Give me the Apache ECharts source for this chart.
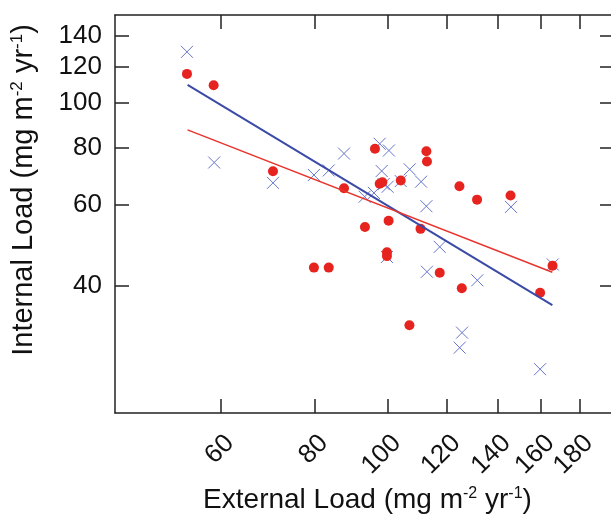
<!DOCTYPE html>
<html>
<head>
<meta charset="utf-8">
<script src="https://cdn.jsdelivr.net/npm/echarts@6/dist/echarts.min.js"></script>
<style>
    html, body { margin: 0; padding: 0; background: #fff; }
    #chart { width: 611px; height: 514px; }
</style>
</head>
<body>
<div id="chart"></div>
<script>
// tick labels (both axes are logarithmic)
var xTicks = [60, 80, 100, 120, 140, 160, 180];
var yTicks = [40, 60, 80, 100, 120, 140];

// red dots: external vs internal load
var redExternal = [54.1, 58.7, 70.4, 87.5, 96.2, 97.6, 98.4, 104.1, 112.6, 112.8, 124.6, 131.5, 145.7,
    100.3, 93.3, 110.6, 99.8, 99.8, 79.8, 83.5, 117.3, 125.5, 159.5, 165.7, 106.9];
var redInternal = [115.8, 109.4, 71.1, 65.3, 79.6, 66.8, 67.3, 67.9, 78.6, 74.7, 66.0, 61.7, 63.0,
    55.5, 53.8, 53.3, 47.4, 46.5, 43.9, 43.9, 42.8, 39.6, 38.7, 44.3, 32.9];

// blue crosses
var blueExternal = [54.1, 58.8, 70.4, 79.8, 83.5, 87.5, 93.2, 95.9, 97.6, 100.4, 98.2, 98.8, 100.0,
    104.1, 107.0, 110.8, 112.6, 117.3, 112.8, 131.6, 99.8, 125.6, 124.7, 159.5, 145.9, 165.8];
var blueInternal = [129.3, 74.3, 67.1, 69.8, 71.4, 77.7, 62.6, 63.8, 81.6, 78.9, 71.2, 66.7, 65.8,
    67.7, 71.8, 67.5, 59.7, 48.7, 43.0, 41.2, 46.3, 31.7, 29.4, 26.4, 59.5, 44.6];

// fitted lines (end points)
var redFitExternal = [54.2, 165.6];
var redFitInternal = [87.5, 42.9];
var blueFitExternal = [54.2, 165.6];
var blueFitInternal = [109.6, 36.4];

var log10 = function (v) { return Math.log10(v); };
var pairs = function (xs, ys) {
    return xs.map(function (x, i) { return [log10(x), log10(ys[i])]; });
};
var fmt = function (v) { return String(Math.round(Math.pow(10, v))); };

var FONT = 'Liberation Sans';
var xMin = log10(43.4), xMax = log10(200);
var yMin = log10(21.2), yMax = log10(155.5);

var axisLine = { show: true, lineStyle: { color: '#222', width: 1.5 } };
var tickStyle = { color: '#222', width: 1.5 };
var supStyle = function (size) {
    return { sup: { fontSize: size, fontFamily: FONT, color: '#111', verticalAlign: 'top', padding: [0, 0, 12, 0] } };
};

var chart = echarts.init(document.getElementById('chart'));

var option = {
    animation: false,
    backgroundColor: '#fff',
    grid: { left: 115, top: 15, width: 499, height: 398, containLabel: false, outerBoundsMode: 'none' },
    xAxis: [{
        type: 'value', min: xMin, max: xMax, position: 'bottom',
        axisLine: axisLine,
        splitLine: { show: false },
        axisTick: { show: true, inside: true, length: 14, lineStyle: tickStyle, customValues: xTicks.map(log10) },
        axisLabel: {
            show: true, customValues: xTicks.map(log10), formatter: fmt, rotate: 45, margin: 17,
            verticalAlign: 'top',
            fontSize: 26, fontFamily: FONT, color: '#111'
        },
        name: 'External Load (mg m{sup|-2} yr{sup|-1})',
        nameLocation: 'middle', nameGap: 72,
        nameTextStyle: { fontSize: 28, fontFamily: FONT, color: '#111', rich: supStyle(16), padding: [0, 0, 0, 6] }
    }, {
        type: 'value', min: xMin, max: xMax, position: 'top',
        axisLine: axisLine,
        splitLine: { show: false },
        axisTick: { show: true, inside: true, length: 14, lineStyle: tickStyle, customValues: xTicks.map(log10) },
        axisLabel: { show: false }
    }],
    yAxis: [{
        type: 'value', min: yMin, max: yMax, position: 'left',
        axisLine: axisLine,
        splitLine: { show: false },
        axisTick: { show: true, inside: true, length: 14, lineStyle: tickStyle, customValues: yTicks.map(log10) },
        axisLabel: {
            show: true, customValues: yTicks.map(log10), formatter: fmt, margin: 13,
            fontSize: 26, fontFamily: FONT, color: '#111'
        },
        name: 'Internal Load (mg m{sup|-2} yr{sup|-1})',
        nameLocation: 'middle', nameGap: 77, nameRotate: 90,
        nameTextStyle: { fontSize: 29, fontFamily: FONT, color: '#111', rich: supStyle(17), padding: [0, 0, 0, 48] }
    }, {
        type: 'value', min: yMin, max: yMax, position: 'right',
        axisLine: axisLine,
        splitLine: { show: false },
        axisTick: { show: true, inside: true, length: 14, lineStyle: tickStyle, customValues: yTicks.map(log10) },
        axisLabel: { show: false }
    }],
    series: [{
        name: 'crosses', type: 'scatter',
        symbol: 'path://M0,0L10,10M10,0L0,10', symbolSize: 12,
        itemStyle: { color: 'rgba(0,0,0,0)', borderColor: '#6575cc', borderWidth: 1, opacity: 1 },
        data: pairs(blueExternal, blueInternal), z: 2
    }, {
        name: 'dots', type: 'scatter',
        symbol: 'circle', symbolSize: 10,
        itemStyle: { color: '#e6231e', opacity: 1 },
        data: pairs(redExternal, redInternal), z: 3
    }, {
        name: 'blue fit', type: 'line', symbol: 'none',
        lineStyle: { color: '#3a4aa6', width: 2 },
        data: pairs(blueFitExternal, blueFitInternal), z: 4
    }, {
        name: 'red fit', type: 'line', symbol: 'none',
        lineStyle: { color: '#e8342c', width: 1.5 },
        data: pairs(redFitExternal, redFitInternal), z: 4
    }]
};

chart.setOption(option);
</script>
</body>
</html>
